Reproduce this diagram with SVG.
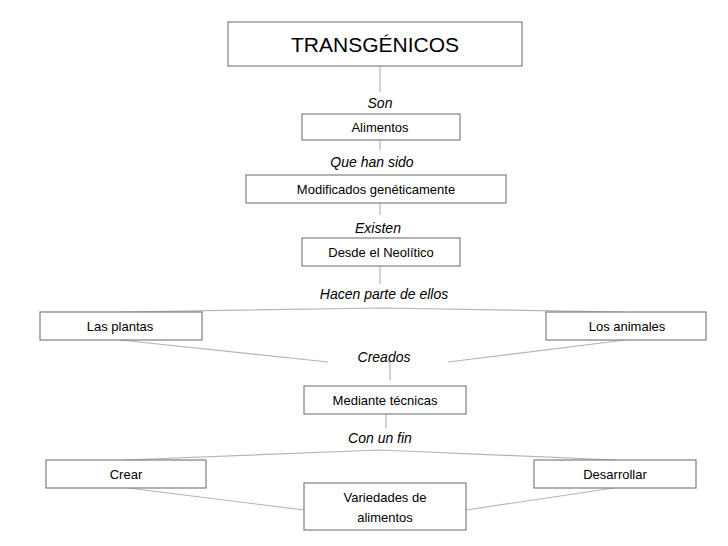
<svg xmlns="http://www.w3.org/2000/svg" width="728" height="546" viewBox="0 0 728 546">
<style>
.b{fill:#fff;stroke:#7f7f7f;stroke-width:1.2}
.t{font-family:"Liberation Sans",Arial,sans-serif;font-size:13px;fill:#000;text-anchor:middle}
.l{font-family:"Liberation Sans",Arial,sans-serif;font-size:14px;font-style:italic;fill:#000;text-anchor:middle}
.c{stroke:#b8b0c8;stroke-width:1.2;fill:none}
</style>
<rect width="728" height="546" fill="#fff"/>
<g id="connectors">
<line class="c" x1="380" y1="66" x2="380" y2="92"/>
<line class="c" x1="380" y1="140" x2="380" y2="150"/>
<line class="c" x1="380" y1="203" x2="380" y2="215"/>
<line class="c" x1="380" y1="266" x2="380" y2="284"/>
<polyline class="c" points="120,312 382,308 625,312"/>
<line class="c" x1="120" y1="340" x2="328" y2="362"/>
<line class="c" x1="625" y1="340" x2="448" y2="362"/>
<line class="c" x1="390" y1="362" x2="390" y2="380"/>
<line class="c" x1="386" y1="414" x2="386" y2="428"/>
<polyline class="c" points="125,460 380,450 615,460"/>
<line class="c" x1="128" y1="488" x2="304" y2="510"/>
<line class="c" x1="614" y1="488" x2="466" y2="510"/>
</g>
<g id="labels">
<text class="l" x="380" y="108">Son</text>
<text class="l" x="372" y="167">Que han sido</text>
<text class="l" x="378" y="233">Existen</text>
<text class="l" x="384" y="299">Hacen parte de ellos</text>
<text class="l" x="384" y="362">Creados</text>
<text class="l" x="380" y="443">Con un fin</text>
</g>
<g id="n1"><rect class="b" x="228" y="22" width="294" height="44"/><text class="t" x="375" y="52" style="font-size:21px">TRANSGÉNICOS</text></g>
<g id="n2"><rect class="b" x="302" y="114" width="158" height="26"/><text class="t" x="380" y="132">Alimentos</text></g>
<g id="n3"><rect class="b" x="246" y="175" width="260" height="28"/><text class="t" x="376" y="194">Modificados genéticamente</text></g>
<g id="n4"><rect class="b" x="302" y="238" width="158" height="28"/><text class="t" x="381" y="257">Desde el Neolítico</text></g>
<g id="n5"><rect class="b" x="40" y="312" width="162" height="28"/><text class="t" x="120" y="331">Las plantas</text></g>
<g id="n6"><rect class="b" x="546" y="312" width="160" height="28"/><text class="t" x="627" y="331">Los animales</text></g>
<g id="n7"><rect class="b" x="304" y="386" width="162" height="28"/><text class="t" x="385" y="405">Mediante técnicas</text></g>
<g id="n8"><rect class="b" x="46" y="460" width="160" height="28"/><text class="t" x="126" y="479">Crear</text></g>
<g id="n9"><rect class="b" x="534" y="460" width="162" height="28"/><text class="t" x="615" y="479">Desarrollar</text></g>
<g id="n10"><rect class="b" x="304" y="483" width="162" height="47"/><text class="t" x="385" y="502">Variedades de</text><text class="t" x="385" y="522">alimentos</text></g>
</svg>
